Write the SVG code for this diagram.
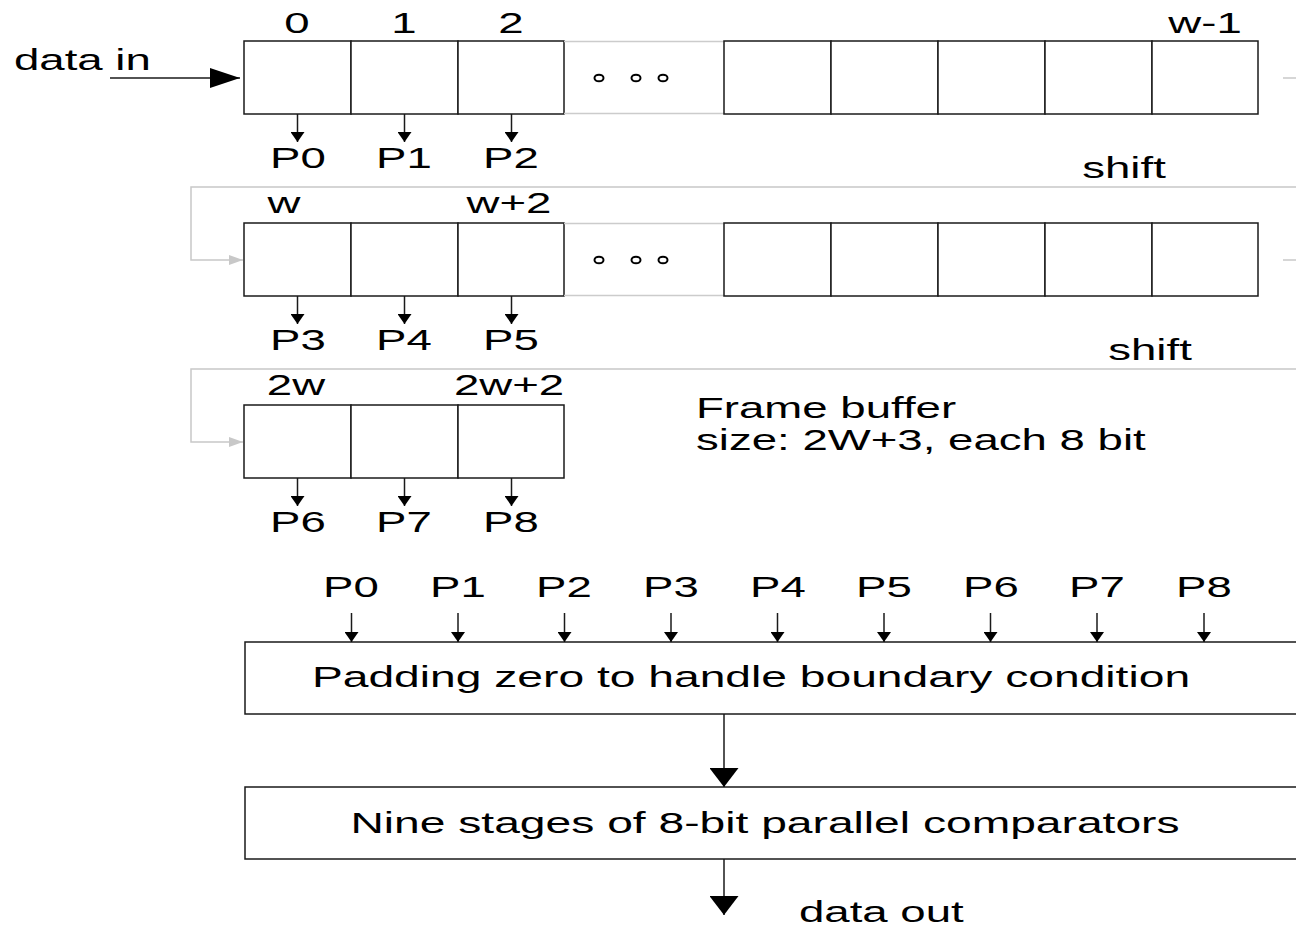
<svg xmlns="http://www.w3.org/2000/svg" width="1296" height="929" viewBox="0 0 1296 929">
<style>
.t{font-family:"Liberation Sans",Arial,sans-serif;font-size:30px;fill:#000}
.m{text-anchor:middle}
.cell{fill:#fff;stroke:#1a1a1a;stroke-width:1.5}
.gap{stroke:#cccccc;stroke-width:1.5;fill:none}
.ln{stroke:#1a1a1a;stroke-width:1.5;fill:none}
.gl{stroke:#c8c8c8;stroke-width:1.5;fill:none}
.dot{fill:none;stroke:#000;stroke-width:2}
</style>
<defs>
<marker id="sa" viewBox="0 0 10 14" markerWidth="10" markerHeight="14" refX="10" refY="7" orient="auto" markerUnits="userSpaceOnUse"><path d="M0,0 L10,7 L0,14 Z" fill="#000"/></marker>
<marker id="ga" viewBox="0 0 14 10" markerWidth="14" markerHeight="10" refX="14" refY="5" orient="auto" markerUnits="userSpaceOnUse"><path d="M0,0 L14,5 L0,10 Z" fill="#c8c8c8"/></marker>
<marker id="bh" viewBox="0 0 30 20" markerWidth="30" markerHeight="20" refX="30" refY="10" orient="auto" markerUnits="userSpaceOnUse"><path d="M0,0 L30,10 L0,20 Z" fill="#000"/></marker>
<marker id="bv" viewBox="0 0 19 29" markerWidth="19" markerHeight="29" refX="19" refY="14.5" orient="auto" markerUnits="userSpaceOnUse"><path d="M0,0 L19,14.5 L0,29 Z" fill="#000"/></marker>
</defs>
<rect width="1296" height="929" fill="#fff"/>

<g id="row1">
<rect class="cell" x="244" y="41" width="107" height="73"/>
<rect class="cell" x="351" y="41" width="107" height="73"/>
<rect class="cell" x="458" y="41" width="106" height="73"/>
<path class="gap" d="M564,41.5 H724 M564,113.5 H724"/>
<ellipse class="dot" cx="599" cy="78" rx="4.5" ry="3.3"/>
<ellipse class="dot" cx="636" cy="78" rx="4.5" ry="3.3"/>
<ellipse class="dot" cx="663" cy="78" rx="4.5" ry="3.3"/>
<rect class="cell" x="724" y="41" width="107" height="73"/>
<rect class="cell" x="831" y="41" width="107" height="73"/>
<rect class="cell" x="938" y="41" width="107" height="73"/>
<rect class="cell" x="1045" y="41" width="107" height="73"/>
<rect class="cell" x="1152" y="41" width="106" height="73"/>
<text class="t m" transform="translate(297,33) scale(1.52,1)">0</text>
<text class="t m" transform="translate(404,33) scale(1.52,1)">1</text>
<text class="t m" transform="translate(511,33) scale(1.52,1)">2</text>
<text class="t m" transform="translate(1205,33) scale(1.52,1)">w-1</text>
<text class="t m" transform="translate(298,168) scale(1.52,1)">P0</text>
<text class="t m" transform="translate(404,168) scale(1.52,1)">P1</text>
<text class="t m" transform="translate(511,168) scale(1.52,1)">P2</text>
</g>

<g id="row2">
<rect class="cell" x="244" y="223" width="107" height="73"/>
<rect class="cell" x="351" y="223" width="107" height="73"/>
<rect class="cell" x="458" y="223" width="106" height="73"/>
<path class="gap" d="M564,223.5 H724 M564,295.5 H724"/>
<ellipse class="dot" cx="599" cy="260" rx="4.5" ry="3.3"/>
<ellipse class="dot" cx="636" cy="260" rx="4.5" ry="3.3"/>
<ellipse class="dot" cx="663" cy="260" rx="4.5" ry="3.3"/>
<rect class="cell" x="724" y="223" width="107" height="73"/>
<rect class="cell" x="831" y="223" width="107" height="73"/>
<rect class="cell" x="938" y="223" width="107" height="73"/>
<rect class="cell" x="1045" y="223" width="107" height="73"/>
<rect class="cell" x="1152" y="223" width="106" height="73"/>
<text class="t m" transform="translate(284,213) scale(1.52,1)">w</text>
<text class="t m" transform="translate(509,213) scale(1.52,1)">w+2</text>
<text class="t m" transform="translate(298,350) scale(1.52,1)">P3</text>
<text class="t m" transform="translate(404,350) scale(1.52,1)">P4</text>
<text class="t m" transform="translate(511,350) scale(1.52,1)">P5</text>
</g>

<g id="row3">
<rect class="cell" x="244" y="405" width="107" height="73"/>
<rect class="cell" x="351" y="405" width="107" height="73"/>
<rect class="cell" x="458" y="405" width="106" height="73"/>
<text class="t m" transform="translate(296,395) scale(1.52,1)">2w</text>
<text class="t m" transform="translate(509,395) scale(1.52,1)">2w+2</text>
<text class="t m" transform="translate(298,532) scale(1.52,1)">P6</text>
<text class="t m" transform="translate(404,532) scale(1.52,1)">P7</text>
<text class="t m" transform="translate(511,532) scale(1.52,1)">P8</text>
</g>

<g id="frame-note">
<text class="t" transform="translate(696,418) scale(1.52,1)">Frame buffer</text>
<text class="t" transform="translate(696,450) scale(1.52,1)">size: 2W+3, each 8 bit</text>
</g>

<g id="labels">
<text class="t" transform="translate(14,70) scale(1.52,1)">data in</text>
<text class="t m" transform="translate(1124,178) scale(1.52,1)">shift</text>
<text class="t m" transform="translate(1150,360) scale(1.52,1)">shift</text>
<text class="t" transform="translate(799,922) scale(1.52,1)">data out</text>
</g>

<g id="inputs">
<text class="t m" transform="translate(351,597) scale(1.52,1)">P0</text>
<text class="t m" transform="translate(458,597) scale(1.52,1)">P1</text>
<text class="t m" transform="translate(564,597) scale(1.52,1)">P2</text>
<text class="t m" transform="translate(671,597) scale(1.52,1)">P3</text>
<text class="t m" transform="translate(778,597) scale(1.52,1)">P4</text>
<text class="t m" transform="translate(884,597) scale(1.52,1)">P5</text>
<text class="t m" transform="translate(991,597) scale(1.52,1)">P6</text>
<text class="t m" transform="translate(1097,597) scale(1.52,1)">P7</text>
<text class="t m" transform="translate(1204,597) scale(1.52,1)">P8</text>
</g>

<g id="padding">
<rect class="cell" x="245" y="642" width="1100" height="72"/>
<text class="t m" transform="translate(751,687) scale(1.54,1)">Padding zero to handle boundary condition</text>
</g>

<g id="comparators">
<rect class="cell" x="245" y="787" width="1100" height="72"/>
<text class="t m" transform="translate(765,833) scale(1.54,1)">Nine stages of 8-bit parallel comparators</text>
</g>

<g id="connectors">
<line class="ln" x1="110" y1="78" x2="240" y2="78" marker-end="url(#bh)"/>
<line class="ln" x1="297.5" y1="114" x2="297.5" y2="142" marker-end="url(#sa)"/>
<line class="ln" x1="404.5" y1="114" x2="404.5" y2="142" marker-end="url(#sa)"/>
<line class="ln" x1="511.5" y1="114" x2="511.5" y2="142" marker-end="url(#sa)"/>
<line class="ln" x1="297.5" y1="296" x2="297.5" y2="324" marker-end="url(#sa)"/>
<line class="ln" x1="404.5" y1="296" x2="404.5" y2="324" marker-end="url(#sa)"/>
<line class="ln" x1="511.5" y1="296" x2="511.5" y2="324" marker-end="url(#sa)"/>
<line class="ln" x1="297.5" y1="478" x2="297.5" y2="506" marker-end="url(#sa)"/>
<line class="ln" x1="404.5" y1="478" x2="404.5" y2="506" marker-end="url(#sa)"/>
<line class="ln" x1="511.5" y1="478" x2="511.5" y2="506" marker-end="url(#sa)"/>
<line class="gl" x1="1283" y1="78" x2="1296" y2="78"/>
<line class="gl" x1="1283" y1="260" x2="1296" y2="260"/>
<path class="gl" d="M1296,187 H191 V260 H243" marker-end="url(#ga)"/>
<path class="gl" d="M1296,369 H191 V442 H243" marker-end="url(#ga)"/>
<line class="ln" x1="351.5" y1="613" x2="351.5" y2="642" marker-end="url(#sa)"/>
<line class="ln" x1="458" y1="613" x2="458" y2="642" marker-end="url(#sa)"/>
<line class="ln" x1="564.5" y1="613" x2="564.5" y2="642" marker-end="url(#sa)"/>
<line class="ln" x1="671" y1="613" x2="671" y2="642" marker-end="url(#sa)"/>
<line class="ln" x1="777.5" y1="613" x2="777.5" y2="642" marker-end="url(#sa)"/>
<line class="ln" x1="884" y1="613" x2="884" y2="642" marker-end="url(#sa)"/>
<line class="ln" x1="990.5" y1="613" x2="990.5" y2="642" marker-end="url(#sa)"/>
<line class="ln" x1="1097" y1="613" x2="1097" y2="642" marker-end="url(#sa)"/>
<line class="ln" x1="1204" y1="613" x2="1204" y2="642" marker-end="url(#sa)"/>
<line class="ln" x1="724" y1="714" x2="724" y2="787" marker-end="url(#bv)"/>
<line class="ln" x1="724" y1="859" x2="724" y2="915" marker-end="url(#bv)"/>
</g>
</svg>
